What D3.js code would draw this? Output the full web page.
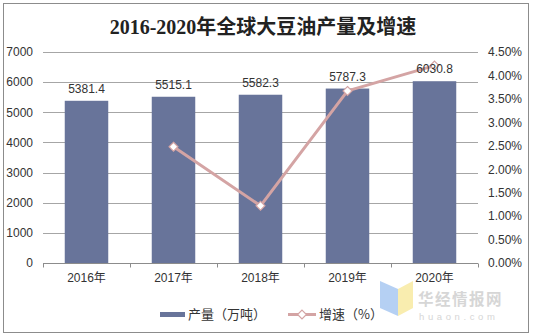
<!DOCTYPE html>
<html>
<head>
<meta charset="utf-8">
<script src="https://cdn.jsdelivr.net/npm/d3@7"></script>
<style>
  html, body { margin: 0; padding: 0; background: #fff; }
  svg { display: block; }
</style>
</head>
<body>
<svg id="chart" width="534" height="335"></svg>
<script>
// Global soybean oil output (10k tonnes) and year-on-year growth (%)
const years = ["2016年", "2017年", "2018年", "2019年", "2020年"];
const output = [5381.4, 5515.1, 5582.3, 5787.3, 6030.8];
const growth = [null, 2.48, 1.22, 3.67, 4.21];
const leftTicks = [0, 1000, 2000, 3000, 4000, 5000, 6000, 7000];
const rightTicks = [0, 0.5, 1, 1.5, 2, 2.5, 3, 3.5, 4, 4.5];

const svg = d3.select("#chart");
const m = { left: 43, right: 478, top: 52, bottom: 263 };
const font = "'Liberation Sans', Arial, 'Noto Sans CJK SC', sans-serif";
const barColor = "#68749a";
const lineColor = "#d4a4a4";
const textColor = "#333";

// outer frame
svg.append("rect").attr("x", 3.5).attr("y", 3.5).attr("width", 525).attr("height", 329)
  .attr("fill", "#fff").attr("stroke", "#8c8c8c").attr("stroke-width", 1);

// title
svg.append("text").attr("x", 263).attr("y", 34).attr("text-anchor", "middle")
  .attr("font-family", "'Liberation Serif', 'Noto Sans CJK SC', serif")
  .attr("font-weight", "bold").attr("font-size", 20).attr("fill", "#222")
  .text("2016-2020年全球大豆油产量及增速");

const x = d3.scaleBand().domain(years).range([m.left, m.right]).paddingInner(0).paddingOuter(0);
const yL = d3.scaleLinear().domain([0, 7000]).range([m.bottom, m.top]);
const yR = d3.scaleLinear().domain([0, 4.5]).range([m.bottom, m.top]);

// horizontal gridlines
svg.append("g").selectAll("line").data(leftTicks.filter(d => d > 0)).join("line")
  .attr("x1", m.left).attr("x2", m.right)
  .attr("y1", d => Math.round(yL(d)) + 0.5).attr("y2", d => Math.round(yL(d)) + 0.5)
  .attr("stroke", "#a6a6a6").attr("stroke-width", 1);

// left axis labels
const gL = svg.append("g").attr("transform", `translate(${m.left},0)`)
  .call(d3.axisLeft(yL).tickValues(leftTicks).tickSize(0).tickPadding(10).tickFormat(d3.format("d")));
gL.select(".domain").remove();
gL.selectAll("text").attr("font-family", font).attr("font-size", 12).attr("fill", textColor);

// right axis labels
const gR = svg.append("g").attr("transform", `translate(${m.right},0)`)
  .call(d3.axisRight(yR).tickValues(rightTicks).tickSize(0).tickPadding(10).tickFormat(d => d.toFixed(2) + "%"));
gR.select(".domain").remove();
gR.selectAll("text").attr("font-family", font).attr("font-size", 12).attr("fill", textColor);

// bars
const bw = x.bandwidth() * 0.5;
svg.append("g").selectAll("rect").data(output).join("rect")
  .attr("x", (d, i) => x(years[i]) + (x.bandwidth() - bw) / 2)
  .attr("y", d => yL(d))
  .attr("width", bw)
  .attr("height", d => yL(0) - yL(d))
  .attr("fill", barColor);

// bottom axis with category boundary ticks
const axisY = Math.round(yL(0)) + 0.5;
svg.append("line").attr("x1", m.left).attr("x2", m.right).attr("y1", axisY).attr("y2", axisY)
  .attr("stroke", "#8c8c8c");
const bounds = years.map(y => x(y)).concat([m.right]);
svg.append("g").selectAll("line").data(bounds).join("line")
  .attr("x1", d => Math.round(d) + 0.5).attr("x2", d => Math.round(d) + 0.5)
  .attr("y1", axisY).attr("y2", axisY + 4).attr("stroke", "#8c8c8c");
svg.append("g").selectAll("text").data(years).join("text")
  .attr("x", d => x(d) + x.bandwidth() / 2).attr("y", 282)
  .attr("text-anchor", "middle").attr("font-family", font).attr("font-size", 12)
  .attr("fill", textColor).text(d => d);

// growth line
const pts = growth.map((g, i) => ({ g, i })).filter(d => d.g !== null);
const line = d3.line().x(d => x(years[d.i]) + x.bandwidth() / 2).y(d => yR(d.g));
svg.append("path").datum(pts).attr("d", line).attr("fill", "none")
  .attr("stroke", lineColor).attr("stroke-width", 3).attr("stroke-linejoin", "round");
const diamond = d3.symbol().type(d3.symbolDiamond2).size(50);
svg.append("g").selectAll("path").data(pts).join("path")
  .attr("transform", d => `translate(${x(years[d.i]) + x.bandwidth() / 2},${yR(d.g)})`)
  .attr("d", diamond).attr("fill", "#fff").attr("stroke", lineColor).attr("stroke-width", 1.2);

// value labels on bars
svg.append("g").selectAll("text").data(output).join("text")
  .attr("x", (d, i) => x(years[i]) + x.bandwidth() / 2)
  .attr("y", d => yL(d) - 8)
  .attr("text-anchor", "middle").attr("font-family", font).attr("font-size", 12)
  .attr("fill", textColor).text(d => d.toFixed(1));

// watermark logo
const wm = svg.append("g").attr("opacity", 0.85);
wm.append("path").attr("d", "M380,281 L398,289 L398,316 L380,308 Z").attr("fill", "#a9c8f2");
wm.append("path").attr("d", "M398,289 L413,281 L413,308 L398,316 Z").attr("fill", "#f8eaa2");
wm.append("text").attr("x", 418).attr("y", 305).attr("font-family", "'Noto Sans CJK SC', sans-serif")
  .attr("font-weight", "bold").attr("font-size", 15.5).attr("letter-spacing", 1.5)
  .attr("fill", "#d0d0d0").text("华经情报网");
wm.append("text").attr("x", 419).attr("y", 320).attr("font-family", font)
  .attr("font-size", 9.5).attr("letter-spacing", 3.6).attr("fill", "#d0d0d0").text("huaon.com");

// legend
const lg = svg.append("g");
lg.append("rect").attr("x", 160).attr("y", 312).attr("width", 25).attr("height", 5).attr("fill", barColor);
lg.append("text").attr("x", 188).attr("y", 319).attr("font-family", "'Noto Sans CJK SC', sans-serif")
  .attr("font-size", 13).attr("fill", textColor).text("产量（万吨）");
lg.append("line").attr("x1", 288).attr("x2", 316).attr("y1", 314.5).attr("y2", 314.5)
  .attr("stroke", lineColor).attr("stroke-width", 3);
lg.append("path").attr("transform", "translate(302,314.5)").attr("d", diamond)
  .attr("fill", "#fff").attr("stroke", lineColor).attr("stroke-width", 1.2);
lg.append("text").attr("x", 319).attr("y", 319).attr("font-family", "'Noto Sans CJK SC', sans-serif")
  .attr("font-size", 13).attr("fill", textColor).text("增速（%）");
</script>
</body>
</html>
